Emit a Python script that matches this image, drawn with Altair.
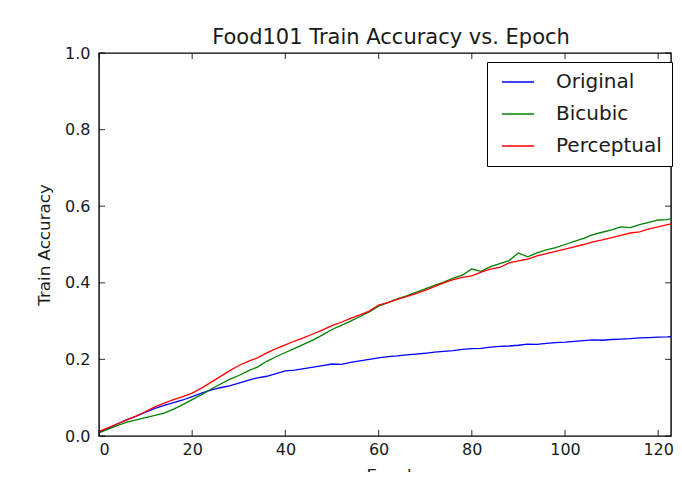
import altair as alt
import pandas as pd

# ---- data ----
epochs = list(range(0, 127, 2))

original = [0.010, 0.020, 0.032, 0.043, 0.052, 0.062, 0.072, 0.080, 0.087, 0.094,
            0.103, 0.112, 0.120, 0.126, 0.131, 0.138, 0.145, 0.152, 0.156, 0.163,
            0.170, 0.172, 0.176, 0.180, 0.184, 0.188, 0.187, 0.192, 0.196, 0.200,
            0.204, 0.207, 0.209, 0.212, 0.214, 0.216, 0.219, 0.221, 0.223, 0.226,
            0.228, 0.229, 0.232, 0.234, 0.235, 0.237, 0.240, 0.239, 0.242, 0.244,
            0.245, 0.247, 0.249, 0.251, 0.250, 0.252, 0.253, 0.254, 0.256, 0.257,
            0.258, 0.259, 0.261, 0.263]

bicubic = [0.008, 0.018, 0.028, 0.036, 0.042, 0.048, 0.054, 0.060, 0.070, 0.082,
           0.095, 0.108, 0.122, 0.135, 0.148, 0.158, 0.170, 0.180, 0.195, 0.207,
           0.218, 0.229, 0.240, 0.251, 0.264, 0.278, 0.289, 0.300, 0.312, 0.324,
           0.339, 0.348, 0.358, 0.366, 0.375, 0.384, 0.393, 0.402, 0.412, 0.420,
           0.436, 0.430, 0.442, 0.450, 0.458, 0.478, 0.468, 0.478, 0.486, 0.492,
           0.500, 0.508, 0.516, 0.526, 0.532, 0.538, 0.546, 0.544, 0.552, 0.558,
           0.564, 0.565, 0.572, 0.582]

perceptual = [0.012, 0.022, 0.032, 0.042, 0.052, 0.064, 0.076, 0.086, 0.095, 0.103,
              0.112, 0.125, 0.140, 0.155, 0.170, 0.184, 0.195, 0.204, 0.217, 0.228,
              0.238, 0.248, 0.257, 0.267, 0.277, 0.288, 0.297, 0.307, 0.316, 0.326,
              0.342, 0.348, 0.357, 0.364, 0.372, 0.380, 0.390, 0.400, 0.408, 0.414,
              0.418, 0.428, 0.436, 0.440, 0.452, 0.457, 0.462, 0.470, 0.476, 0.482,
              0.488, 0.494, 0.500, 0.507, 0.512, 0.518, 0.524, 0.530, 0.533, 0.541,
              0.546, 0.552, 0.556, 0.560]

series_names = ["Original", "Bicubic", "Perceptual"]
series_colors = ["#0000ff", "#008000", "#ff0000"]
x_ticks = [0, 20, 40, 60, 80, 100, 120]
y_ticks = [0.0, 0.2, 0.4, 0.6, 0.8, 1.0]
x_max = 122.75  # visible part of the axis (the reference is cropped on the right)

rows = []
for name, vals in zip(series_names, [original, bicubic, perceptual]):
    for e, v in zip(epochs, vals):
        rows.append({"Epoch": e, "Accuracy": v, "Series": name})
df = pd.DataFrame(rows)
xt = pd.DataFrame({"v": x_ticks})
yt = pd.DataFrame({"v": y_ticks})

W, H = 572, 383
FONT = "DejaVu Sans"
TXT = "#1a1a1a"

xscale = alt.Scale(domain=[0, x_max], nice=False, zero=False)
yscale = alt.Scale(domain=[0, 1], nice=False)

x_axis = alt.Axis(values=x_ticks, format="d", ticks=False, tickSize=0, domain=False,
                  grid=False, labelPadding=5, titleY=31, titleX=292.5,
                  titleBaseline="top", titleAlign="center")
y_axis = alt.Axis(values=y_ticks, format=".1f", ticks=False, tickSize=0, domain=False,
                  grid=False, labelPadding=9, titleX=-63, titleBaseline="top")

lines = alt.Chart(df).mark_line(strokeWidth=1.3, clip=True).encode(
    x=alt.X("Epoch:Q", scale=xscale, axis=x_axis, title="Epoch"),
    y=alt.Y("Accuracy:Q", scale=yscale, axis=y_axis, title="Train Accuracy"),
    color=alt.Color(
        "Series:N",
        scale=alt.Scale(domain=series_names, range=series_colors),
        sort=series_names,
        legend=alt.Legend(
            title=None, orient="none", legendX=388, legendY=9, direction="vertical",
            symbolType="stroke", symbolSize=1024, symbolStrokeWidth=1.5,
            symbolOffset=4, labelOffset=21, labelFontSize=20, labelFont=FONT,
            labelColor=TXT, rowPadding=12, padding=10, clipHeight=20,
            strokeColor="black", fillColor="white", cornerRadius=0,
        ),
    ),
)

tick_len = 6
left_ticks = alt.Chart(yt).mark_tick(orient="horizontal", size=tick_len, thickness=1.2,
                                     color="black").encode(
    y=alt.Y("v:Q", scale=yscale, axis=y_axis, title="Train Accuracy"),
    x=alt.value(tick_len / 2),
)
right_ticks = alt.Chart(yt).mark_tick(orient="horizontal", size=tick_len, thickness=1.2,
                                      color="black").encode(
    y=alt.Y("v:Q", scale=yscale, axis=y_axis, title="Train Accuracy"),
    x=alt.value(W - tick_len / 2),
)
bottom_ticks = alt.Chart(xt).mark_tick(orient="vertical", size=tick_len, thickness=1.2,
                                       color="black").encode(
    x=alt.X("v:Q", scale=xscale, axis=x_axis, title="Epoch"),
    y=alt.value(H - tick_len / 2),
)
top_ticks = alt.Chart(xt).mark_tick(orient="vertical", size=tick_len, thickness=1.2,
                                    color="black").encode(
    x=alt.X("v:Q", scale=xscale, axis=x_axis, title="Epoch"),
    y=alt.value(tick_len / 2),
)

chart = alt.layer(lines, left_ticks, right_ticks, bottom_ticks, top_ticks).properties(
    width=W,
    height=H,
    background="white",
    autosize=alt.AutoSizeParams(type="none"),
    padding={"left": 91, "top": 45, "right": 3, "bottom": 36},
    title=alt.TitleParams(
        "Food101 Train Accuracy vs. Epoch", font=FONT, fontSize=21, fontWeight="normal",
        color=TXT, anchor="middle", baseline="alphabetic", offset=0, dy=20, dx=6,
    ),
).configure_view(
    stroke="black", strokeWidth=1.4
).configure_axis(
    labelFont=FONT, labelFontSize=16, labelColor=TXT,
    titleFont=FONT, titleFontSize=16.7, titleFontWeight="normal", titleColor=TXT,
)

chart.save("out.html", embed_options={"renderer": "svg", "actions": False})
